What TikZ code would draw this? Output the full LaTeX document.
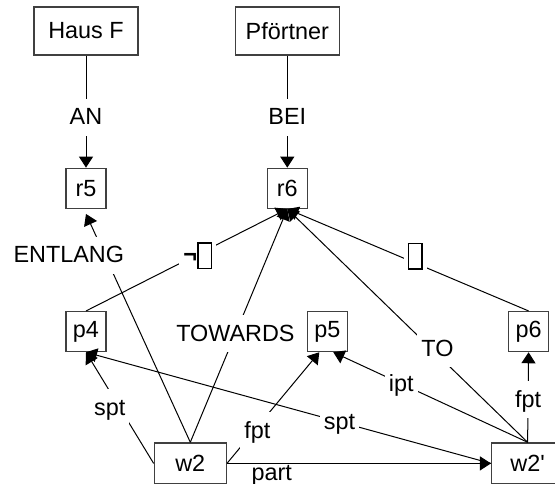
\documentclass[tikz,border=0pt]{standalone}
\usepackage{fontspec}
\setmainfont{Liberation Sans}
\usetikzlibrary{positioning,arrows.meta}

\newcommand{\tofu}{{\setlength{\fboxsep}{0pt}\setlength{\fboxrule}{0.7pt}\raisebox{-2.6pt}{\fbox{\rule{0pt}{12pt}\hspace{6pt}}}}}

\begin{document}
\begin{tikzpicture}[x=0.5pt,y=-0.5pt,>={Triangle[length=5.5pt,width=7pt]},
	font=\fontsize{11.7pt}{14pt}\selectfont,
	bigbox/.style={rectangle,draw=black!75,line width=0.65pt,minimum width=52pt,minimum height=24pt,inner sep=1pt},
	smallbox/.style={rectangle,draw=black!75,line width=0.65pt,minimum size=20pt,inner sep=1pt},
	wbox/.style={rectangle,draw=black!75,line width=0.65pt,minimum width=36pt,minimum height=20.5pt,inner sep=1pt},
	lbl/.style={fill=white,inner xsep=2pt,inner ysep=4.5pt,text height=8.5pt,text depth=1pt},
	tofulbl/.style={lbl,text height=10.8pt,text depth=2.6pt},
	rel/.style={line width=0.5pt}]
		\useasboundingbox (0,0) rectangle (555,483);
		\node[bigbox] (hausf) at (86,31) {Haus F};
		\node[bigbox] (pfoertner) [right=48pt of hausf] {Pförtner};
		\node[smallbox] (r5) [below=56pt of hausf] {r5};
		\node[smallbox] (r6) [below=56pt of pfoertner] {r6};
		\node[smallbox] (p4) [below=51pt of r5] {p4};
		\node[smallbox] (p5) [right=100pt of p4] {p5};
		\node[smallbox] (p6) [right=80pt of p5] {p6};
		\node[wbox] (w2) [below right=45pt and 23.5pt of p4] {w2};
		\node[wbox] (w2p) [right=132pt of w2] {w2\textquotesingle};
		\draw[rel,->] (hausf) -- node[lbl,pos=0.55] {AN} (r5);
		\draw[rel,->] (pfoertner) -- node[lbl,pos=0.55] {BEI} (r6);
		\draw[rel,->] (w2.north) -- node[lbl,pos=0.82,xshift=-18pt] {ENTLANG} ([yshift=-2.5pt]r5.south);
		\draw[rel,->] (w2.north) -- node[lbl,pos=0.465] {TOWARDS} (r6.south);
		\draw[rel,->] (p4.north) -- node[tofulbl,pos=0.555] {\textbf{¬}\tofu} (r6.south);
		\draw[rel,->] (p6.north) -- node[tofulbl,pos=0.47,yshift=4pt] {\tofu} (r6.south);
		\draw[rel,->] (w2p.north) -- node[lbl,pos=0.4,xshift=3pt] {TO} (r6.south);
		\draw[rel,->] (w2p.north) -- node[lbl,pos=0.65] {ipt} ([xshift=3pt]p5.south);
		\draw[rel,->] (w2.east) -- node[lbl,pos=0.33,yshift=-2pt] {fpt} ([xshift=-4pt]p5.south);
		\draw[rel,->] (w2p.north) -- node[lbl,pos=0.47] {fpt} (p6.south);
		\draw[rel,->] (w2.west) -- node[lbl,pos=0.5,xshift=-5pt] {spt} (p4.south);
		\draw[rel,->] (w2p.west) -- node[lbl,pos=0.374] {spt} (p4.south);
		\draw[rel,->] (w2.east) -- node[pos=0.17,below,inner sep=0pt,text height=8.5pt] {part} (w2p.west);
	\end{tikzpicture}
\end{document}
